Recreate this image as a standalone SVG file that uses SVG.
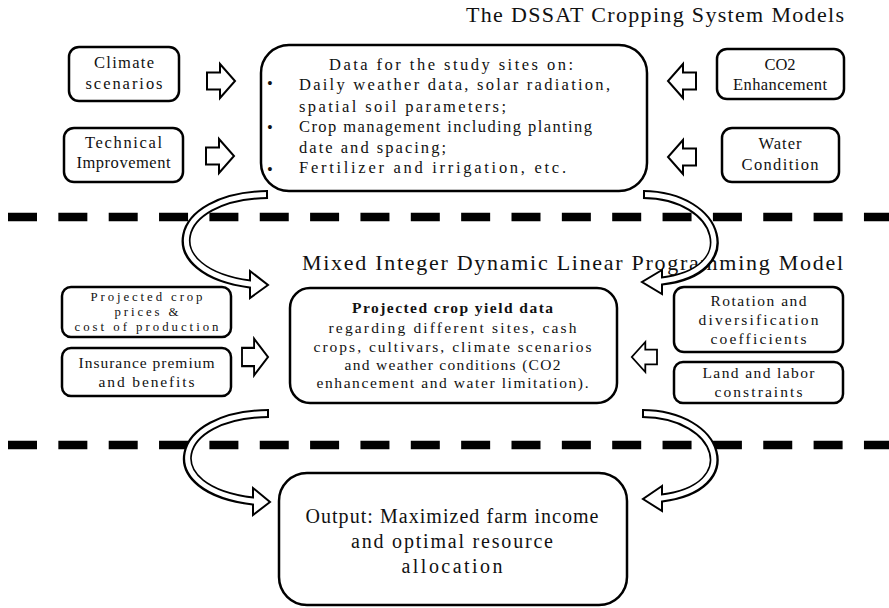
<svg xmlns="http://www.w3.org/2000/svg" xmlns:xlink="http://www.w3.org/1999/xlink" width="889" height="608" viewBox="0 0 889 608">
<style>
  .box { fill: #fff; stroke: #000; stroke-width: 2.5; }
  .t { font-family: "Liberation Serif", "Times New Roman", serif; fill: #111; text-anchor: middle; }
  .s16 { font-size: 16.5px; }
  .s15 { font-size: 15.5px; }
  .s13 { font-size: 12.8px; }
  .s20 { font-size: 20px; }
  .title { font-family: "Liberation Serif", "Times New Roman", serif; font-size: 22px; fill: #111; }
  .dash { stroke: #000; stroke-width: 8.5; stroke-dasharray: 29 21.35; fill: none; }
  .blk { fill: #fff; stroke: #000; stroke-width: 2; stroke-linejoin: miter; }
  .bandO { fill: none; stroke: #000; stroke-width: 9; }
  .bandI { fill: none; stroke: #fff; stroke-width: 5; }
  .head { fill: #fff; stroke: #000; stroke-width: 2; stroke-linejoin: miter; }
  .cap { stroke: #000; stroke-width: 2; }
</style>
<defs>
  <path id="blockArrow" d="M0,-8.5 H13 V-17 L28,0 L13,17 V8.5 H0 Z"/>
</defs>
<rect width="889" height="608" fill="#fff"/>

<g id="dividers">
  <line class="dash" x1="8" y1="217" x2="889" y2="217"/>
  <line class="dash" x1="8" y1="445" x2="889" y2="445"/>
</g>

<text class="title" x="466" y="22" textLength="378" lengthAdjust="spacing">The DSSAT Cropping System Models</text>
<text class="title" x="302" y="270" textLength="541" lengthAdjust="spacing">Mixed Integer Dynamic Linear Programming Model</text>

<g id="climate">
  <rect class="box" x="69" y="47" width="110" height="54" rx="10"/>
  <text class="t s16" x="124" y="68" textLength="60" lengthAdjust="spacing">Climate</text>
  <text class="t s16" x="124" y="89" textLength="77" lengthAdjust="spacing">scenarios</text>
</g>
<g id="technical">
  <rect class="box" x="64" y="128" width="119" height="54" rx="10"/>
  <text class="t s16" x="123.5" y="148" textLength="77" lengthAdjust="spacing">Technical</text>
  <text class="t s16" x="123.5" y="168" textLength="94" lengthAdjust="spacing">Improvement</text>
</g>
<g id="dssat-data">
  <rect class="box" x="261" y="45" width="386" height="146" rx="28"/>
  <text class="t s16" x="451" y="70" textLength="244" lengthAdjust="spacing">Data for the study sites on:</text>
  <text class="t s16" x="270" y="89">•</text>
  <text class="t s16" x="270" y="133">•</text>
  <text class="t s16" x="270" y="175">•</text>
  <text class="t s16" x="299" y="90" style="text-anchor:start" textLength="311" lengthAdjust="spacing">Daily weather data, solar radiation,</text>
  <text class="t s16" x="299" y="112" style="text-anchor:start" textLength="207" lengthAdjust="spacing">spatial soil parameters;</text>
  <text class="t s16" x="299" y="132" style="text-anchor:start" textLength="293" lengthAdjust="spacing">Crop management including planting</text>
  <text class="t s16" x="299" y="153" style="text-anchor:start" textLength="147" lengthAdjust="spacing">date and spacing;</text>
  <text class="t s16" x="299" y="173" style="text-anchor:start" textLength="267" lengthAdjust="spacing">Fertilizer and irrigation, etc.</text>
</g>
<g id="co2">
  <rect class="box" x="717" y="49" width="127" height="50" rx="10"/>
  <text class="t s16" x="780" y="70">CO2</text>
  <text class="t s16" x="780" y="90" textLength="94" lengthAdjust="spacing">Enhancement</text>
</g>
<g id="water">
  <rect class="box" x="722" y="128" width="117" height="54" rx="10"/>
  <text class="t s16" x="780" y="149" textLength="43" lengthAdjust="spacing">Water</text>
  <text class="t s16" x="780" y="170" textLength="77" lengthAdjust="spacing">Condition</text>
</g>
<g id="prices">
  <rect class="box" x="62" y="287" width="169" height="50" rx="9"/>
  <text class="t s13" x="146.5" y="301" textLength="112" lengthAdjust="spacing">Projected crop</text>
  <text class="t s13" x="146.5" y="316" textLength="64" lengthAdjust="spacing">prices &amp;</text>
  <text class="t s13" x="146.5" y="331" textLength="144" lengthAdjust="spacing">cost of production</text>
</g>
<g id="insurance">
  <rect class="box" x="62" y="348" width="169" height="48" rx="9"/>
  <text class="t s15" x="146.5" y="368" textLength="136" lengthAdjust="spacing">Insurance premium</text>
  <text class="t s15" x="146.5" y="387" textLength="96" lengthAdjust="spacing">and benefits</text>
</g>
<g id="yield-data">
  <rect class="box" x="290" y="288" width="327" height="115" rx="20"/>
  <text class="t s15" x="452.5" y="313" font-weight="bold" textLength="201" lengthAdjust="spacing">Projected crop yield data</text>
  <text class="t s15" x="452.5" y="333" textLength="248" lengthAdjust="spacing">regarding different sites, cash</text>
  <text class="t s15" x="452.5" y="352" textLength="278" lengthAdjust="spacing">crops, cultivars, climate scenarios</text>
  <text class="t s15" x="452.5" y="370" textLength="216" lengthAdjust="spacing">and weather conditions (CO2</text>
  <text class="t s15" x="452.5" y="388" textLength="272" lengthAdjust="spacing">enhancement and water limitation).</text>
</g>
<g id="rotation">
  <rect class="box" x="674" y="287" width="169" height="65" rx="10"/>
  <text class="t s15" x="758.5" y="306" textLength="96" lengthAdjust="spacing">Rotation and</text>
  <text class="t s15" x="758.5" y="325" textLength="120" lengthAdjust="spacing">diversification</text>
  <text class="t s15" x="758.5" y="344" textLength="96" lengthAdjust="spacing">coefficients</text>
</g>
<g id="land">
  <rect class="box" x="674" y="362" width="169" height="41" rx="9"/>
  <text class="t s15" x="758.5" y="378" textLength="112" lengthAdjust="spacing">Land and labor</text>
  <text class="t s15" x="758.5" y="397" textLength="88" lengthAdjust="spacing">constraints</text>
</g>
<g id="output">
  <rect class="box" x="279" y="473" width="348" height="132" rx="28"/>
  <text class="t s20" x="452" y="523" textLength="293" lengthAdjust="spacing">Output: Maximized farm income</text>
  <text class="t s20" x="452" y="548" textLength="202" lengthAdjust="spacing">and optimal resource</text>
  <text class="t s20" x="452" y="573" textLength="101" lengthAdjust="spacing">allocation</text>
</g>

<g id="connectors">
  <use xlink:href="#blockArrow" class="blk" transform="translate(207,81)"/>
  <use xlink:href="#blockArrow" class="blk" transform="translate(206,156)"/>
  <use xlink:href="#blockArrow" class="blk" transform="translate(696,81) scale(-1,1)"/>
  <use xlink:href="#blockArrow" class="blk" transform="translate(696,157) scale(-1,1)"/>
  <use xlink:href="#blockArrow" class="blk" transform="translate(242,357) scale(0.93,1.08)"/>
  <use xlink:href="#blockArrow" class="blk" transform="translate(657,357) scale(-0.9,0.88)"/>

  <g id="curve-top-left">
    <polygon class="head" points="250,271 268,285 250,298"/>
    <path class="bandO" d="M268,194.5 C170,196 155,272 250,284"/>
    <path class="bandI" d="M268,194.5 C170,196 155,272 252,284.3"/>
    <line class="cap" x1="267" y1="190" x2="267" y2="199"/>
  </g>
  <g id="curve-top-right">
    <polygon class="head" points="662,270 642,282 662,294"/>
    <path class="bandO" d="M643,194.5 C722,195 745,272 662,281"/>
    <path class="bandI" d="M643,194.5 C722,195 745,272 660,281.2"/>
    <line class="cap" x1="644" y1="190" x2="644" y2="199"/>
  </g>
  <g id="curve-bottom-left">
    <polygon class="head" points="253,488 270,502 253,515"/>
    <path class="bandO" d="M269,413.5 C172,414 155,490 253,501"/>
    <path class="bandI" d="M269,413.5 C172,414 155,490 255,501.2"/>
    <line class="cap" x1="268" y1="409" x2="268" y2="418"/>
  </g>
  <g id="curve-bottom-right">
    <polygon class="head" points="662,486 643,499 662,511"/>
    <path class="bandO" d="M642,413.5 C722,414 745,488 662,498"/>
    <path class="bandI" d="M642,413.5 C722,414 745,488 660,498.2"/>
    <line class="cap" x1="643" y1="409" x2="643" y2="418"/>
  </g>
</g>
</svg>
